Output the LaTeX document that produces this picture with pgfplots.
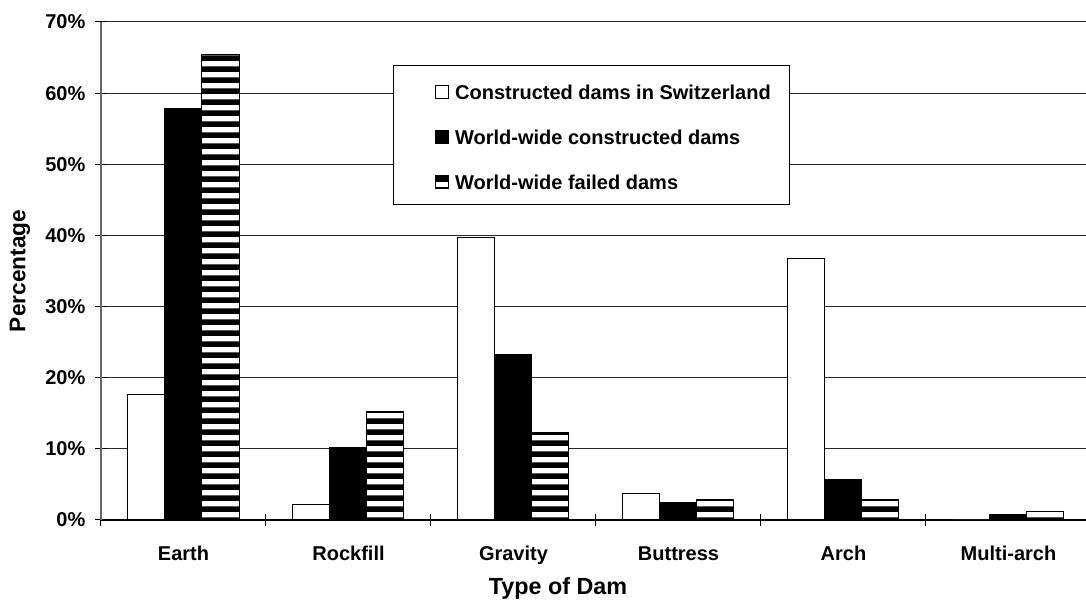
\documentclass[border=0pt]{standalone}
\usepackage{pgfplots}
\pgfplotsset{compat=1.18}
\usepackage{fontspec}
\setmainfont{Liberation Sans}
\usetikzlibrary{patterns}
\pgfdeclarepatternformonly{hstripes}{\pgfpointorigin}{\pgfpoint{100pt}{8.25pt}}{\pgfpoint{100pt}{8.25pt}}{%
  \pgfpathrectangle{\pgfpoint{0pt}{0pt}}{\pgfpoint{100pt}{4.5pt}}\pgfusepath{fill}}
\begin{document}
\begin{tikzpicture}
\useasboundingbox (0,0) rectangle (814.5pt,450pt);
\begin{axis}[
  at={(75.75pt,60pt)}, anchor=south west,
  scale only axis, width=742.5pt, height=373.5pt,
  xmin=-0.5, xmax=5.5, ymin=0, ymax=70,
  ybar=0pt, bar width=27.75pt,
  font=\bfseries\fontsize{15}{18}\selectfont,
  /pgf/number format/assume math mode=true,
  axis x line*=bottom, axis y line*=left,
  x axis line style={draw=black, line width=0.9pt},
  y axis line style={draw=black!60, line width=1pt},
  xtick={-0.5,0.5,...,5.5},
  x tick label as interval,
  xticklabels={Earth,Rockfill,Gravity,Buttress,Arch,Multi-arch},
  ytick={0,10,...,70},
  yticklabel={\pgfmathprintnumber{\tick}\%},
  tick align=center, major tick length=9pt,
  tick style={draw=black, line width=0.75pt},
  ymajorgrids, grid style={draw=black!85, line width=0.75pt},
  xticklabel style={anchor=base, yshift=-25.5pt, font=\bfseries\fontsize{15}{18}\selectfont},
  yticklabel style={anchor=east, inner sep=0pt, xshift=-7pt, font=\bfseries\fontsize{15}{18}\selectfont},
  xlabel={Type of Dam}, ylabel={Percentage},
  xlabel style={at={(axis description cs:0.4616,-0.1486)}, anchor=base, font=\bfseries\fontsize{17.5}{20}\selectfont},
  ylabel style={at={(axis description cs:-0.0818,0.5)}, anchor=center, font=\bfseries\fontsize{17}{20}\selectfont},
  legend image code/.code={\path (0pt,0pt) (31.5pt,0pt); \draw[#1] (17pt,-6.25pt) rectangle (26.75pt,3.5pt);},
  legend style={at={(0.2949,0.9137)}, anchor=north west, draw=black, line width=0.75pt,
    inner xsep=14pt, inner ysep=8pt, row sep=13.05pt,
    font=\bfseries\fontsize{15}{18}\selectfont,
    nodes={inner sep=0pt, text height=17.4pt, text depth=3.3pt},
    cells={anchor=west}},
]
\addplot[draw=black, fill=white, line width=0.75pt] coordinates {
  (0,17.6) (1,2.2) (2,39.7) (3,3.7) (4,36.8) (5,0)};
\addplot[draw=black, fill=black, line width=0.75pt] coordinates {
  (0,57.9) (1,10.2) (2,23.2) (3,2.4) (4,5.7) (5,0.8)};
\addplot[draw=black, fill=white, line width=0.75pt,
  postaction={pattern=hstripes, pattern color=black}] coordinates {
  (0,65.5) (1,15.2) (2,12.3) (3,2.9) (4,2.9) (5,1.2)};
\legend{Constructed dams in Switzerland, World-wide constructed dams, World-wide failed dams}
\end{axis}
\end{tikzpicture}
\end{document}
